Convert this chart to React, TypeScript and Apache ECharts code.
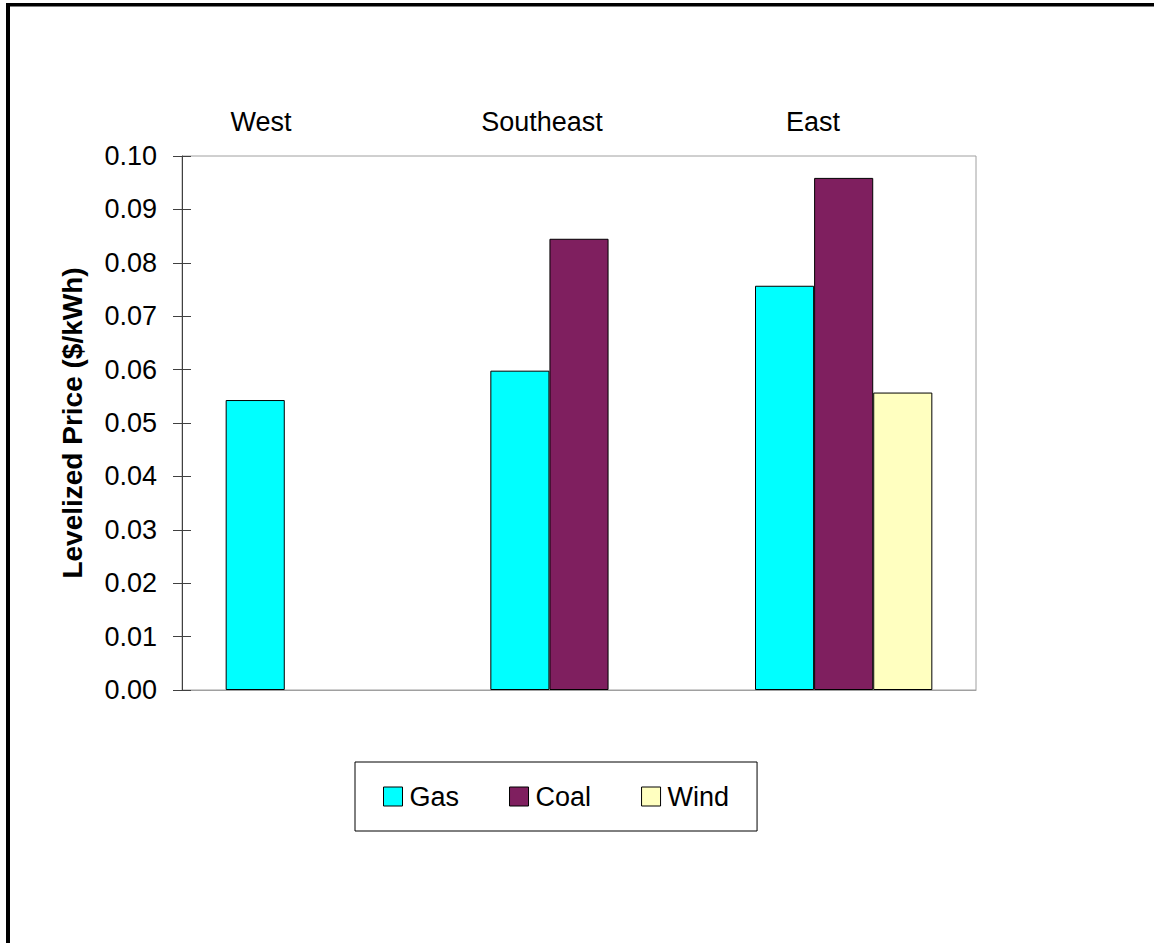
import React, { useEffect, useRef } from "react";
import * as echarts from "echarts";

const categories = ["West", "Southeast", "East"];
const gasValues = [0.0543, 0.0598, 0.0757];
const coalValues: (number | null)[] = [null, 0.0845, 0.0959];
const windValues: (number | null)[] = [null, null, 0.0557];
const yTicks = { min: 0, max: 0.1, interval: 0.01 };
// label centres above the plot (horizontal position of each region title)
const labelCenters = [261, 542, 813];

const FONT = "'Liberation Sans', Arial, sans-serif";

export default function App() {
  const ref = useRef<HTMLDivElement>(null);
  useEffect(() => {
    if (!ref.current) return;
    const chart = echarts.init(ref.current, undefined, { renderer: "svg" });
    const option: any = {
      animation: false,
      backgroundColor: "#ffffff",
      textStyle: { fontFamily: FONT, color: "#000" },
      grid: {
        left: 182,
        top: 156,
        right: 178,
        bottom: 253,
        show: true,
        borderColor: "#a0a0a0",
        borderWidth: 1,
        backgroundColor: "transparent",
      },
      legend: {
        data: ["Gas", "Coal", "Wind"],
        left: 355,
        top: 762,
        orient: "horizontal",
        padding: [21, 28, 21, 28],
        itemGap: 50,
        itemWidth: 19,
        itemHeight: 19,
        icon: "rect",
        borderColor: "#000",
        borderWidth: 1,
        backgroundColor: "#fff",
        textStyle: { fontFamily: FONT, fontSize: 27, color: "#000", lineHeight: 27, padding: [0, 0, 0, 2] },
        itemStyle: { borderColor: "#000", borderWidth: 1 },
      },
      xAxis: {
        type: "category",
        data: categories,
        position: "bottom",
        axisLine: { show: true, lineStyle: { color: "#a0a0a0", width: 1 } },
        axisTick: { show: false },
        axisLabel: { show: false },
        splitLine: { show: false },
      },
      yAxis: [
        {
          type: "value",
          min: yTicks.min,
          max: yTicks.max,
          interval: yTicks.interval,
          position: "left",
          name: "Levelized Price ($/kWh)",
          nameLocation: "middle",
          nameGap: 96,
          nameTextStyle: { fontFamily: FONT, fontSize: 28, fontWeight: "bold", color: "#000" },
          axisLine: { show: true, lineStyle: { color: "#404040", width: 1 } },
          axisTick: { show: true, inside: false, length: 9, lineStyle: { color: "#404040", width: 1 } },
          axisLabel: {
            fontFamily: FONT,
            fontSize: 27,
            color: "#000",
            margin: 25,
            formatter: (v: number) => v.toFixed(2),
          },
          splitLine: { show: false },
        },
        {
          type: "value",
          min: yTicks.min,
          max: yTicks.max,
          interval: yTicks.interval,
          position: "left",
          offset: 0,
          axisLine: { show: false },
          axisTick: { show: true, inside: true, length: 9, lineStyle: { color: "#404040", width: 1 } },
          axisLabel: { show: false },
          splitLine: { show: false },
        },
      ],
      series: [
        {
          name: "Gas",
          type: "bar",
          data: gasValues,
          barGap: "0%",
          barCategoryGap: "33%",
          itemStyle: { color: "#00ffff", borderColor: "#000", borderWidth: 1 },
        },
        {
          name: "Coal",
          type: "bar",
          data: coalValues,
          barGap: "0%",
          barCategoryGap: "33%",
          itemStyle: { color: "#7f1f5f", borderColor: "#000", borderWidth: 1 },
        },
        {
          name: "Wind",
          type: "bar",
          data: windValues,
          barGap: "0%",
          barCategoryGap: "33%",
          itemStyle: { color: "#ffffc0", borderColor: "#000", borderWidth: 1 },
        },
      ],
      graphic: [
        { type: "rect", left: 6, top: 3, shape: { width: 4, height: 940 }, style: { fill: "#000" }, z: 100 },
        { type: "rect", left: 6, top: 3, shape: { width: 1148, height: 3.5 }, style: { fill: "#000" }, z: 100 },
        ...categories.map((c, i) => ({
          type: "text",
          x: labelCenters[i],
          y: 122,
          style: {
            text: c,
            fontFamily: FONT,
            fontSize: 27,
            fill: "#000",
            textAlign: "center",
            textVerticalAlign: "middle",
          },
        })),
      ],
    };
    chart.setOption(option);
    return () => chart.dispose();
  }, []);
  return (
    <div
      ref={ref}
      style={{ position: "fixed", left: 0, top: 0, width: 1154, height: 943, background: "#fff" }}
    />
  );
}
